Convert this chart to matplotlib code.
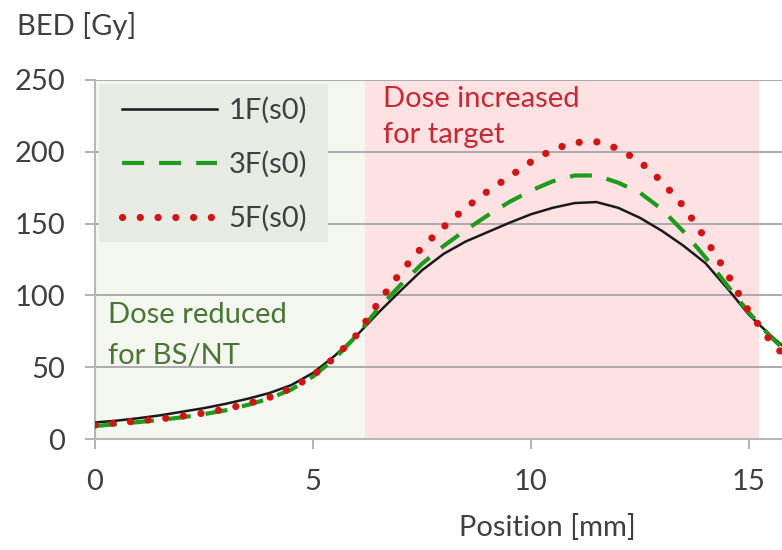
import numpy as np
import matplotlib.pyplot as plt
from matplotlib.patches import Rectangle

plt.rcParams['font.family'] = ['Lato', 'DejaVu Sans']

# BED profiles along the position axis [mm]
position = np.arange(0, 16.01, 0.5)
bed_1f = [11.5, 12.8, 14.5, 16.5, 19.0, 21.5, 24.5, 28.0, 32.0, 37.5, 46.0,
          58.0, 72.0, 88.0, 103.0, 117.5, 129.0, 137.5, 144.0, 150.5, 156.5,
          161.0, 164.3, 165.0, 161.0, 154.0, 145.0, 134.5, 122.5, 105.0, 86.5,
          72.0, 59.0]
bed_3f = [9.0, 10.4, 11.8, 13.3, 15.1, 17.3, 20.0, 23.7, 28.2, 34.4, 43.5,
          56.0, 72.0, 91.0, 107.0, 122.0, 134.5, 145.5, 155.6, 165.0, 173.0,
          179.5, 183.5, 183.5, 178.5, 171.5, 160.0, 144.4, 126.5, 107.0, 88.0,
          71.0, 57.0]
bed_5f = [9.7, 11.2, 12.6, 14.0, 15.9, 18.1, 20.9, 24.6, 29.0, 35.2, 44.2,
          56.8, 72.4, 95.0, 115.7, 133.5, 147.7, 161.0, 172.4, 182.6, 193.0,
          201.6, 206.5, 207.0, 202.2, 193.1, 179.3, 162.0, 139.6, 115.1, 88.6,
          67.9, 52.0]

labels = ['1F(s0)', '3F(s0)', '5F(s0)']

# regions: reduced dose for brainstem / normal tissue, increased for target
oar_region = (0.0, 6.2)
target_region = (6.2, 15.23)

fs = 21
grey = '#a6a6a6'
txt = '#404040'

fig = plt.figure(figsize=(7.82, 5.50), dpi=100)
ax = fig.add_axes([95/782, 1 - 439/550, 687/782, 359/550])

ax.axvspan(*oar_region, color='#f4f7f0', zorder=0, lw=0)
ax.axvspan(*target_region, color='#fde1e3', zorder=0, lw=0)

ax.plot(position, bed_1f, color='#1a1a1a', lw=1.8, zorder=4, label=labels[0])
ax.plot(position, bed_3f, color='#1f9a1a', lw=3.0, zorder=4,
        linestyle=(0, (5.3, 3.6)), dash_capstyle='butt', label=labels[1])
ax.plot(position, bed_5f, color='#d01515', lw=5.2, zorder=5,
        linestyle=(0, (0.01, 2.45)), dash_capstyle='round', label=labels[2])

ax.set_xlim(0, 15.757)
ax.set_ylim(0, 250)
ax.set_xticks([0, 5, 10, 15])
ax.set_yticks(np.arange(0, 251, 50))
ax.yaxis.grid(True, color=grey, lw=1.3)
ax.set_axisbelow(True)

for s in ['top', 'right']:
    ax.spines[s].set_visible(False)
for s in ['left', 'bottom']:
    ax.spines[s].set_color('#b8b8b8')
    ax.spines[s].set_linewidth(1.5)

ax.tick_params(axis='both', direction='out', length=7.5, width=1.2,
               color=grey, labelsize=fs, labelcolor=txt)
ax.tick_params(axis='y', pad=14)
ax.tick_params(axis='x', pad=14)

# legend on a grey box
ax.add_patch(Rectangle((4/687, 197/359), 229/687, 158/359, transform=ax.transAxes,
                       facecolor='#e8eae4', edgecolor='none', zorder=3))
leg = ax.legend(loc='upper left', bbox_to_anchor=(27/687, 0.953), frameon=False,
                fontsize=fs, handlelength=3.25, handletextpad=0.4,
                labelspacing=0.93, borderpad=0, borderaxespad=0)
leg.set_zorder(6)
for t in leg.get_texts():
    t.set_color(txt)

ax.text(6.6, 231, 'Dose increased', color='#c8282f', fontsize=fs, va='baseline')
ax.text(6.6, 206, 'for target', color='#c8282f', fontsize=fs, va='baseline')
ax.text(0.3, 81, 'Dose reduced', color='#4b7535', fontsize=fs, va='baseline')
ax.text(0.3, 52.5, 'for BS/NT', color='#4b7535', fontsize=fs, va='baseline')

fig.text(17/782, 1 - 26/550, 'BED [Gy]', fontsize=fs, color=txt, va='center', ha='left')
fig.text(547/782, 1 - 528/550, 'Position [mm]', fontsize=fs, color=txt, va='center', ha='center')

fig.savefig('out.png', dpi=100)
